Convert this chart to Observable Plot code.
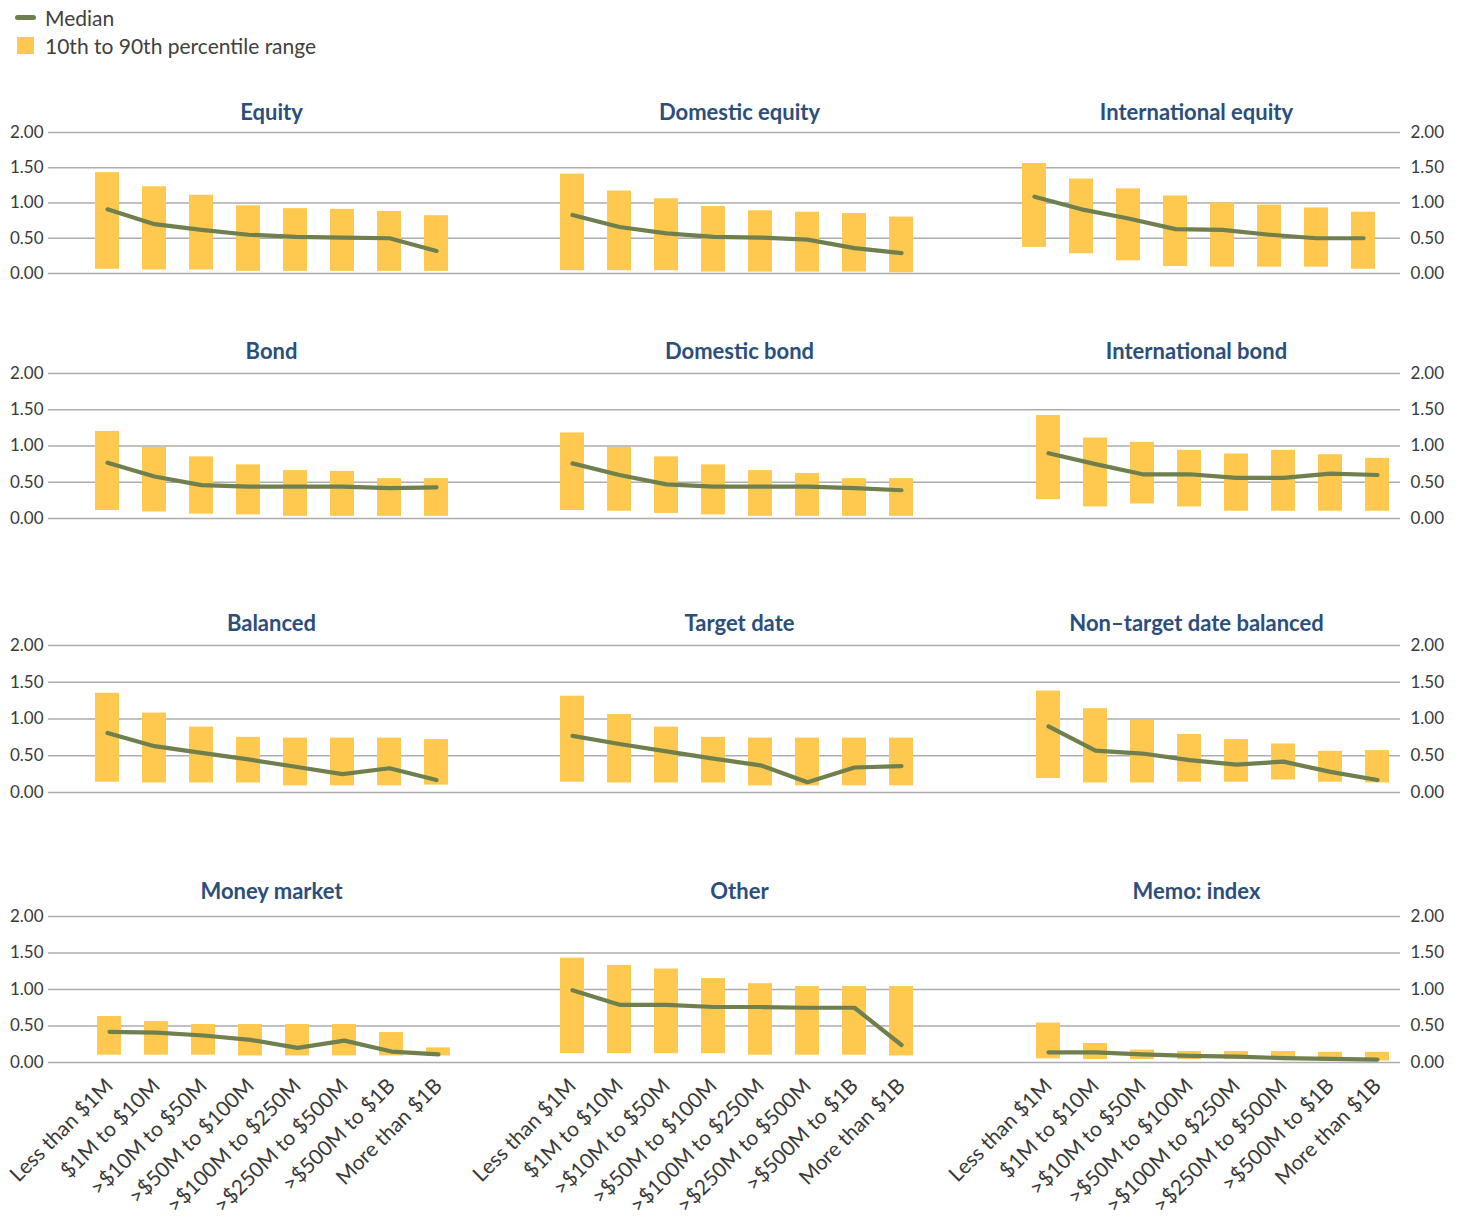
<!DOCTYPE html>
<html>
<head>
<meta charset="utf-8">
<script src="https://cdn.jsdelivr.net/npm/d3@7"></script>
<script src="https://cdn.jsdelivr.net/npm/@observablehq/plot@0.6"></script>
<style>
  html, body { margin: 0; padding: 0; background: #fff; }
  #root { position: relative; width: 1460px; height: 1220px; font-family: Lato, "Noto Sans", sans-serif; overflow: hidden; }
  .panel { position: absolute; }
  .legend { position: absolute; left: 0; top: 0; font-size: 21px; color: #404040; }
  .legend .item { position: absolute; white-space: nowrap; }
</style>
</head>
<body>
<div id="root">
  <div class="legend">
    <div class="item" style="left:15px; top:4px; height:26px; display:flex; align-items:center;">
      <span style="display:inline-block;width:21px;height:5px;border-radius:3px;background:#6f7f4d;margin-right:9px;"></span><span>Median</span>
    </div>
    <div class="item" style="left:17px; top:32px; height:26px; display:flex; align-items:center;">
      <span style="display:inline-block;width:17px;height:17px;background:#ffc94f;margin-right:11px;"></span><span>10th to 90th percentile range</span>
    </div>
  </div>
</div>
<script>
// ---------- data ----------
const categories = ["Less than $1M", "$1M to $10M", ">$10M to $50M", ">$50M to $100M", ">$100M to $250M", ">$250M to $500M", ">$500M to $1B", "More than $1B"];

const panelTitles = ["Equity", "Domestic equity", "International equity",
                     "Bond", "Domestic bond", "International bond",
                     "Balanced", "Target date", "Non\u2013target date balanced",
                     "Money market", "Other", "Memo: index"];

const p10 = [
  [0.06, 0.05, 0.05, 0.03, 0.03, 0.03, 0.03, 0.03],
  [0.04, 0.04, 0.04, 0.02, 0.02, 0.02, 0.02, 0.01],
  [0.37, 0.28, 0.18, 0.10, 0.09, 0.09, 0.09, 0.06],
  [0.11, 0.09, 0.06, 0.05, 0.03, 0.03, 0.03, 0.03],
  [0.11, 0.10, 0.07, 0.05, 0.03, 0.03, 0.03, 0.03],
  [0.26, 0.16, 0.20, 0.16, 0.10, 0.10, 0.10, 0.10],
  [0.14, 0.13, 0.13, 0.13, 0.09, 0.09, 0.09, 0.10],
  [0.14, 0.13, 0.13, 0.13, 0.09, 0.09, 0.09, 0.09],
  [0.19, 0.13, 0.13, 0.14, 0.14, 0.17, 0.14, 0.13],
  [0.10, 0.10, 0.10, 0.09, 0.09, 0.09, 0.09, 0.09],
  [0.12, 0.12, 0.12, 0.12, 0.10, 0.10, 0.10, 0.09],
  [0.05, 0.04, 0.04, 0.04, 0.04, 0.04, 0.02, 0.02]
];

const p90 = [
  [1.43, 1.23, 1.11, 0.96, 0.92, 0.91, 0.88, 0.82],
  [1.41, 1.17, 1.06, 0.95, 0.89, 0.87, 0.85, 0.80],
  [1.56, 1.34, 1.20, 1.10, 1.00, 0.97, 0.93, 0.87],
  [1.20, 0.98, 0.85, 0.74, 0.66, 0.65, 0.55, 0.55],
  [1.18, 0.98, 0.85, 0.74, 0.66, 0.62, 0.55, 0.55],
  [1.42, 1.11, 1.05, 0.94, 0.89, 0.94, 0.88, 0.83],
  [1.35, 1.08, 0.89, 0.75, 0.74, 0.74, 0.74, 0.72],
  [1.31, 1.06, 0.89, 0.75, 0.74, 0.74, 0.74, 0.74],
  [1.38, 1.14, 0.98, 0.79, 0.72, 0.66, 0.56, 0.57],
  [0.63, 0.56, 0.52, 0.52, 0.52, 0.52, 0.41, 0.20],
  [1.43, 1.33, 1.28, 1.15, 1.08, 1.04, 1.04, 1.04],
  [0.54, 0.26, 0.17, 0.15, 0.15, 0.15, 0.14, 0.14]
];

const medians = [
  [0.91, 0.70, 0.62, 0.55, 0.52, 0.51, 0.50, 0.32],
  [0.83, 0.66, 0.57, 0.52, 0.51, 0.48, 0.36, 0.29],
  [1.09, 0.91, 0.78, 0.63, 0.62, 0.55, 0.50, 0.50],
  [0.77, 0.58, 0.46, 0.44, 0.44, 0.44, 0.42, 0.43],
  [0.76, 0.60, 0.47, 0.44, 0.44, 0.44, 0.42, 0.39],
  [0.90, 0.75, 0.61, 0.61, 0.56, 0.56, 0.62, 0.60],
  [0.81, 0.63, 0.54, 0.45, 0.35, 0.25, 0.33, 0.17],
  [0.77, 0.66, 0.56, 0.46, 0.37, 0.14, 0.34, 0.36],
  [0.90, 0.57, 0.53, 0.44, 0.38, 0.42, 0.28, 0.17],
  [0.42, 0.41, 0.37, 0.31, 0.20, 0.30, 0.15, 0.11],
  [0.99, 0.79, 0.79, 0.76, 0.76, 0.75, 0.75, 0.24],
  [0.14, 0.14, 0.11, 0.09, 0.08, 0.06, 0.05, 0.04]
];

const yTicks = [0, 0.5, 1, 1.5, 2];

// ---------- layout ----------
const rowTop = [132, 373, 645, 916];     // pixel row of the 2.00 gridline
const rowZero = [273, 518, 792, 1062];   // pixel row of the 0.00 gridline
const titleY = [112, 351, 623, 891];     // pixel row of the panel titles' centre
const titleX = [271, 739, 1196];         // pixel column of the panel titles' centre
const colLeft = [0, 505, 975];           // svg left
const colWidth = [505, 470, 485];
const colMarginLeft = [48, 0, 0];
const colMarginRight = [0, 0, 60];
const firstBarCenter = [
  [105, 570, 1032],
  [105, 570, 1046],
  [105, 570, 1046],
  [107, 570, 1046]
];
const step = 47.45;
const marginTop = 48;

const colors = {bar: "#ffc94f", line: "#6f7f4d", grid: "#adadad", title: "#2c4e7a", text: "#3a3a3a"};

const root = document.getElementById("root");

panelTitles.forEach((title, i) => {
  const row = Math.floor(i / 3), col = i % 3;
  const data = categories.map((c, k) => ({cat: c, lo: p10[i][k], hi: p90[i][k], med: medians[i][k]}));
  const L = colLeft[col];
  const W = colWidth[col];
  const c0 = firstBarCenter[row][col] - L;
  const xRange = [c0 - step / 2, c0 + 7.5 * step];
  const frameH = rowZero[row] - rowTop[row];
  const isBottom = row === 3;
  const marginBottom = isBottom ? 170 : 12;
  const H = marginTop + frameH + marginBottom;
  const ml = colMarginLeft[col], mr = colMarginRight[col];
  const frameCenter = ml + (W - ml - mr) / 2;
  const titleCenter = titleX[col] - L;

  const marks = [
    Plot.ruleY(yTicks, {stroke: colors.grid, strokeWidth: 1.6}),
    Plot.barY(data, {x: "cat", y1: "lo", y2: "hi", fill: colors.bar}),
    Plot.lineY(data, {x: "cat", y: "med", stroke: colors.line, strokeWidth: 4.2, strokeLinecap: "round", strokeLinejoin: "round"}),
    Plot.text([title], {frameAnchor: "top", lineAnchor: "middle", dx: titleCenter - frameCenter, dy: titleY[row] - rowTop[row], fontSize: 22, fontWeight: "bold", fill: colors.title, text: d => d})
  ];
  if (col === 0) {
    marks.push(Plot.axisY({anchor: "left", ticks: yTicks, tickFormat: d => d.toFixed(2), tickSize: 0, tickPadding: 5, fontSize: 17}));
  } else if (col === 2) {
    marks.push(Plot.axisY({anchor: "right", ticks: yTicks, tickFormat: d => d.toFixed(2), tickSize: 0, tickPadding: 10, fontSize: 17}));
  }
  if (isBottom) {
    marks.push(Plot.axisX({tickRotate: -45, tickSize: 0, tickPadding: 20, fontSize: 21, label: null}));
  }

  const chart = Plot.plot({
    width: W,
    height: H,
    marginTop,
    marginBottom,
    marginLeft: ml,
    marginRight: mr,
    x: {type: "band", domain: categories, range: xRange, paddingInner: 0.5, paddingOuter: 0.25, axis: null},
    y: {domain: [0, 2], axis: null},
    style: {fontFamily: "Lato, 'Noto Sans', sans-serif", color: colors.text, background: "transparent", overflow: "visible"},
    marks
  });
  chart.classList.add("panel");
  chart.style.left = L + "px";
  chart.style.top = (rowTop[row] - marginTop) + "px";
  root.appendChild(chart);
});
</script>
</body>
</html>
